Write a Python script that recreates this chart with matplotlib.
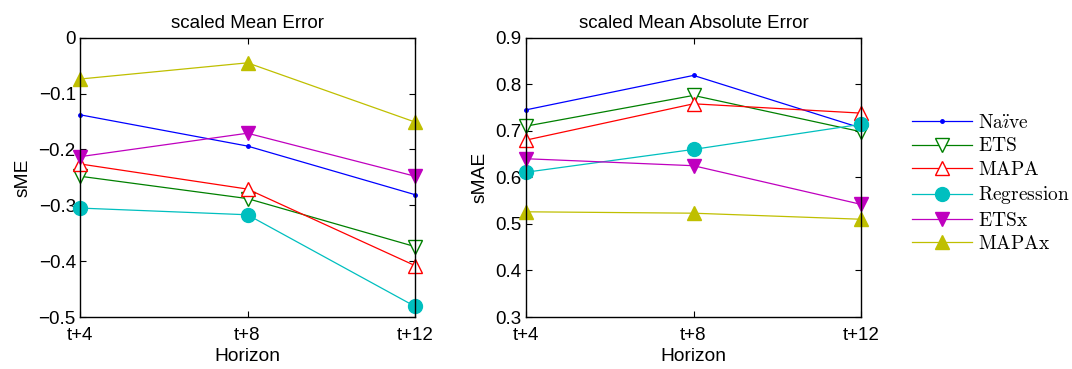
import numpy as np
import matplotlib
matplotlib.use("Agg")
import matplotlib.pyplot as plt

# данные
horizons = ["t+4", "t+8", "t+12"]
methods = ["Naïve", "ETS", "MAPA", "Regression", "ETSx", "MAPAx"]
legend_labels = [r"$\mathrm{Na\ddot{\imath}ve}$", r"$\mathrm{ETS}$", r"$\mathrm{MAPA}$",
                 r"$\mathrm{Regression}$", r"$\mathrm{ETSx}$", r"$\mathrm{MAPAx}$"]

sme_naive = [-0.138, -0.194, -0.281]
sme_ets = [-0.248, -0.288, -0.374]
sme_mapa = [-0.226, -0.271, -0.408]
sme_regr = [-0.305, -0.317, -0.481]
sme_etsx = [-0.213, -0.171, -0.248]
sme_mapax = [-0.074, -0.045, -0.151]

smae_naive = [0.745, 0.819, 0.706]
smae_ets = [0.710, 0.776, 0.698]
smae_mapa = [0.680, 0.758, 0.738]
smae_regr = [0.611, 0.660, 0.714]
smae_etsx = [0.640, 0.625, 0.542]
smae_mapax = [0.526, 0.523, 0.510]

sme_ticks = [-0.5, -0.4, -0.3, -0.2, -0.1, 0]
smae_ticks = [0.3, 0.4, 0.5, 0.6, 0.7, 0.8, 0.9]

# стиль в духе MATLAB
styles = [
    dict(color=(0, 0, 1), marker='.', ms=5, mfc=(0, 0, 1)),
    dict(color=(0, 0.5, 0), marker='v', ms=10, mfc='white'),
    dict(color=(1, 0, 0), marker='^', ms=10, mfc='white'),
    dict(color=(0, 0.75, 0.75), marker='o', ms=10, mfc=(0, 0.75, 0.75)),
    dict(color=(0.75, 0, 0.75), marker='v', ms=10, mfc=(0.75, 0, 0.75)),
    dict(color=(0.75, 0.75, 0), marker='^', ms=10, mfc=(0.75, 0.75, 0)),
]

plt.rcParams['font.family'] = ['Liberation Sans', 'DejaVu Sans']
plt.rcParams['mathtext.fontset'] = 'cm'

fig = plt.figure(figsize=(10.72, 3.69), dpi=100)
W, H = 1072, 369
ax1 = fig.add_axes([80 / W, 1 - 317 / H, 335 / W, 279.3 / H])
ax2 = fig.add_axes([526 / W, 1 - 317 / H, 335 / W, 279.3 / H])

x = np.arange(len(horizons))


def draw(ax, series, title, ylabel, ylim, yticks):
    lines = []
    for vals, st in zip(series, styles):
        ln, = ax.plot(x, vals, color=st['color'], marker=st['marker'],
                      markersize=st['ms'], markerfacecolor=st['mfc'],
                      markeredgecolor=st['color'], linewidth=0.9, clip_on=False)
        lines.append(ln)
    ax.set_xlim(0, 2)
    ax.set_ylim(*ylim)
    ax.set_xticks(x)
    ax.set_xticklabels(horizons)
    ax.set_yticks(yticks)
    ax.set_yticklabels([("%g" % t).replace("-", "\u2212") for t in yticks])
    ax.tick_params(direction='in', top=True, right=True, labelsize=13.5,
                   length=4)
    ax.tick_params(axis='x', pad=7)
    ax.tick_params(axis='y', pad=3)
    ax.set_title(title, fontsize=13.5, pad=7)
    ax.set_xlabel("Horizon", fontsize=13.8, labelpad=3)
    ax.set_ylabel(ylabel, fontsize=13.8, labelpad=5)
    for s in ax.spines.values():
        s.set_linewidth(1.0)
    return lines


draw(ax1, [sme_naive, sme_ets, sme_mapa, sme_regr, sme_etsx, sme_mapax],
     "scaled Mean Error", "sME", (-0.5, 0), sme_ticks)
lines = draw(ax2, [smae_naive, smae_ets, smae_mapa, smae_regr, smae_etsx, smae_mapax],
             "scaled Mean Absolute Error", "sMAE", (0.3, 0.9), smae_ticks)

fig.legend(lines, legend_labels, loc='upper left', bbox_to_anchor=(912 / W, 1 - 114 / H),
           frameon=False, prop={'size': 14}, borderpad=0, borderaxespad=0,
           handlelength=3.1, handletextpad=0.3, labelspacing=0.28)

fig.savefig("out.png", dpi=100)
